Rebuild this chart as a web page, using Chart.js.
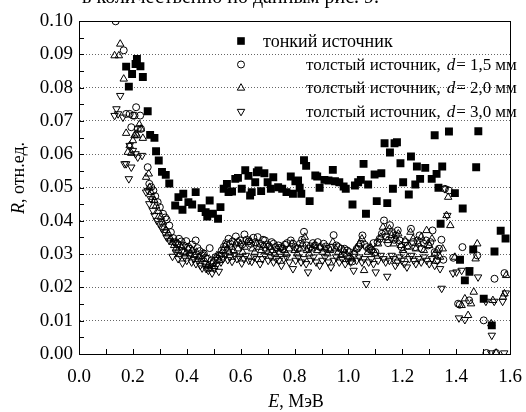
<!DOCTYPE html>
<html>
<head>
<meta charset="utf-8">
<script src="https://cdn.jsdelivr.net/npm/chart.js@4"></script>
</head>
<body style="margin:0; background:#fff">
<div style="position:relative; width:526px; height:412px; overflow:hidden">
  <canvas id="chart" width="526" height="412"></canvas>
  <div id="top-text" style="position:absolute; left:82px; top:-15px; font:20px 'Liberation Serif'; white-space:nowrap">в количественно по данным рис. 9.</div>
</div>
<script>
// Series data (E in MeV, R in rel. units)

const thinE = [0.175,0.185,0.197,0.210,0.215,0.228,0.237,0.255,0.264,0.280,0.286,0.296,0.308,0.322,0.335,0.357,0.369,0.384,0.387,0.406,
  0.420,0.433,0.455,0.470,0.476,0.485,0.497,0.516,0.525,0.537,0.549,0.555,0.568,0.580,0.590,0.604,0.617,0.629,0.635,0.641,
  0.654,0.660,0.666,0.676,0.688,0.700,0.712,0.721,0.739,0.754,0.770,0.786,0.794,0.803,0.813,0.819,0.825,0.835,0.843,0.856,
  0.877,0.884,0.893,0.911,0.926,0.942,0.950,0.966,0.982,0.990,1.015,1.024,1.036,1.046,1.056,1.065,1.073,1.097,1.105,1.122,
  1.134,1.144,1.154,1.165,1.171,1.180,1.193,1.203,1.224,1.232,1.248,1.254,1.266,1.285,1.309,1.320,1.327,1.334,1.342,1.348,
  1.373,1.395,1.414,1.424,1.432,1.449,1.463,1.474,1.482,1.502,1.532,1.542,1.565,1.583];
const thinR = [0.0863,0.0803,0.0841,0.0871,0.0886,0.0864,0.0832,0.0729,0.0658,0.0649,0.0609,0.0581,0.0547,0.0538,0.0512,0.0446,0.0471,0.0433,0.0481,0.0456,
  0.0449,0.0486,0.0438,0.0426,0.0413,0.0461,0.0421,0.0406,0.0441,0.0496,0.0511,0.0486,0.0488,0.0526,0.0529,0.0496,0.0552,0.0535,0.0476,0.0486,
  0.0516,0.0546,0.0551,0.0489,0.0543,0.0516,0.0496,0.0531,0.0501,0.0496,0.0486,0.0533,0.0481,0.0519,0.0521,0.0499,0.0481,0.0582,0.0565,0.0459,
  0.0536,0.0533,0.0499,0.0523,0.0521,0.0553,0.0519,0.0516,0.0503,0.0496,0.0449,0.0506,0.0516,0.0523,0.0571,0.0421,0.0509,0.0539,0.0459,0.0543,
  0.0633,0.0453,0.0605,0.0496,0.0633,0.0636,0.0573,0.0516,0.0479,0.0593,0.0509,0.0563,0.0526,0.0559,0.0526,0.0657,0.0541,0.0499,0.0391,0.0563,
  0.0668,0.0483,0.0283,0.0437,0.0221,0.0247,0.0314,0.0561,0.0669,0.0166,0.0086,0.0308,0.0370,0.0347];

const d15E = [0.136,0.166,0.175,0.188,0.194,0.200,0.206,0.212,0.218,0.227,0.230,0.255,0.261,0.268,0.276,0.283,0.292,0.300,0.312,0.320,
  0.325,0.335,0.341,0.350,0.358,0.365,0.371,0.380,0.388,0.398,0.405,0.412,0.420,0.433,0.440,0.448,0.456,0.463,0.470,0.478,
  0.485,0.492,0.500,0.507,0.515,0.522,0.530,0.538,0.546,0.555,0.562,0.570,0.582,0.590,0.598,0.606,0.614,0.622,0.630,0.638,
  0.647,0.655,0.663,0.672,0.683,0.690,0.698,0.706,0.715,0.722,0.730,0.740,0.748,0.756,0.764,0.772,0.786,0.794,0.803,0.812,
  0.820,0.828,0.835,0.845,0.852,0.860,0.868,0.876,0.886,0.895,0.908,0.916,0.925,0.935,0.945,0.955,0.963,0.972,0.985,0.995,
  1.003,1.014,1.022,1.031,1.038,1.045,1.052,1.060,1.068,1.076,1.085,1.093,1.100,1.108,1.116,1.124,1.132,1.140,1.147,1.154,
  1.162,1.170,1.176,1.183,1.190,1.197,1.205,1.212,1.220,1.232,1.240,1.248,1.256,1.264,1.272,1.280,1.288,1.296,1.304,1.312,
  1.320,1.328,1.336,1.345,1.352,1.358,1.373,1.389,1.407,1.413,1.423,1.448,1.478,1.502,1.512,1.542,1.548,1.579];
const d15R = [0.0999,0.0912,0.0721,0.0721,0.0681,0.0716,0.0716,0.0741,0.0676,0.0716,0.0676,0.0561,0.0511,0.0501,0.0491,0.0474,0.0456,0.0441,0.0421,0.0410,
  0.0404,0.0386,0.0366,0.0348,0.0336,0.0331,0.0346,0.0338,0.0326,0.0339,0.0322,0.0316,0.0329,0.0341,0.0318,0.0309,0.0296,0.0302,0.0289,0.0286,
  0.0318,0.0281,0.0276,0.0291,0.0286,0.0296,0.0311,0.0322,0.0333,0.0346,0.0331,0.0338,0.0353,0.0336,0.0341,0.0329,0.0359,0.0343,0.0338,0.0331,
  0.0349,0.0336,0.0351,0.0331,0.0343,0.0341,0.0329,0.0323,0.0336,0.0331,0.0321,0.0326,0.0319,0.0316,0.0328,0.0333,0.0341,0.0331,0.0321,0.0316,
  0.0331,0.0343,0.0367,0.0326,0.0316,0.0323,0.0333,0.0326,0.0336,0.0321,0.0331,0.0323,0.0316,0.0319,0.0357,0.0326,0.0321,0.0316,0.0316,0.0311,
  0.0306,0.0278,0.0301,0.0316,0.0323,0.0331,0.0356,0.0328,0.0321,0.0316,0.0311,0.0333,0.0306,0.0336,0.0346,0.0361,0.0401,0.0353,0.0333,0.0387,
  0.0366,0.0343,0.0356,0.0371,0.0341,0.0321,0.0301,0.0336,0.0326,0.0376,0.0336,0.0321,0.0341,0.0356,0.0316,0.0331,0.0341,0.0326,0.0336,0.0371,
  0.0306,0.0281,0.0316,0.0343,0.0283,0.0496,0.0491,0.0289,0.0151,0.0148,0.0321,0.0161,0.0296,0.0101,0.0003,0.0226,0.0003,0.0243];

const d20E = [0.132,0.148,0.153,0.166,0.175,0.181,0.188,0.194,0.200,0.206,0.212,0.215,0.224,0.230,0.237,0.249,0.259,0.262,0.267,0.273,
  0.280,0.286,0.295,0.304,0.310,0.316,0.324,0.332,0.340,0.347,0.353,0.360,0.368,0.375,0.381,0.388,0.396,0.405,0.412,0.420,
  0.428,0.436,0.445,0.455,0.463,0.470,0.478,0.486,0.494,0.502,0.512,0.520,0.527,0.535,0.543,0.550,0.558,0.566,0.574,0.582,
  0.590,0.598,0.607,0.615,0.625,0.635,0.643,0.652,0.660,0.668,0.676,0.685,0.694,0.702,0.710,0.718,0.727,0.736,0.745,0.754,
  0.762,0.770,0.780,0.790,0.800,0.810,0.820,0.830,0.838,0.846,0.855,0.864,0.874,0.884,0.894,0.903,0.912,0.922,0.932,0.942,
  0.952,0.962,0.972,0.982,0.992,1.002,1.012,1.020,1.030,1.040,1.050,1.058,1.072,1.082,1.092,1.100,1.110,1.120,1.128,1.136,
  1.144,1.152,1.160,1.168,1.176,1.185,1.194,1.202,1.210,1.220,1.230,1.240,1.250,1.260,1.270,1.280,1.290,1.300,1.310,1.320,
  1.330,1.340,1.350,1.364,1.370,1.378,1.395,1.420,1.432,1.444,1.455,1.465,1.472,1.478,1.530,1.536,1.548,1.573,1.579,1.585];
const d20R = [0.0896,0.0896,0.0931,0.0826,0.0663,0.0606,0.0626,0.0603,0.0641,0.0656,0.0661,0.0656,0.0689,0.0676,0.0648,0.0531,0.0541,0.0501,0.0486,0.0471,
  0.0461,0.0445,0.0428,0.0411,0.0396,0.0381,0.0371,0.0361,0.0346,0.0336,0.0326,0.0316,0.0311,0.0326,0.0321,0.0306,0.0301,0.0316,0.0301,0.0311,
  0.0296,0.0306,0.0291,0.0286,0.0301,0.0276,0.0266,0.0256,0.0271,0.0263,0.0296,0.0281,0.0301,0.0311,0.0326,0.0316,0.0306,0.0321,0.0311,0.0331,
  0.0316,0.0331,0.0306,0.0321,0.0336,0.0341,0.0316,0.0306,0.0331,0.0321,0.0311,0.0326,0.0316,0.0306,0.0321,0.0311,0.0301,0.0316,0.0306,0.0321,
  0.0311,0.0301,0.0316,0.0331,0.0311,0.0301,0.0316,0.0331,0.0351,0.0311,0.0301,0.0316,0.0326,0.0311,0.0321,0.0306,0.0316,0.0301,0.0311,0.0336,
  0.0316,0.0306,0.0296,0.0311,0.0301,0.0291,0.0286,0.0306,0.0316,0.0331,0.0346,0.0251,0.0306,0.0321,0.0311,0.0301,0.0331,0.0351,0.0381,0.0366,
  0.0341,0.0376,0.0356,0.0331,0.0346,0.0361,0.0326,0.0311,0.0341,0.0321,0.0366,0.0346,0.0316,0.0331,0.0351,0.0311,0.0371,0.0326,0.0346,0.0301,
  0.0311,0.0291,0.0316,0.0416,0.0471,0.0386,0.0291,0.0146,0.0166,0.0116,0.0151,0.0186,0.0286,0.0331,0.0091,0.0161,0.0003,0.0171,0.0181,0.0236];

const d30E = [0.132,0.139,0.145,0.153,0.163,0.169,0.175,0.185,0.188,0.194,0.200,0.210,0.218,0.234,0.249,0.255,0.261,0.267,0.274,0.280,
  0.289,0.298,0.307,0.316,0.325,0.335,0.347,0.353,0.360,0.368,0.376,0.384,0.392,0.400,0.410,0.418,0.426,0.434,0.442,0.450,
  0.457,0.465,0.472,0.480,0.487,0.494,0.502,0.510,0.519,0.527,0.535,0.543,0.552,0.560,0.568,0.577,0.586,0.595,0.604,0.612,
  0.620,0.630,0.641,0.650,0.660,0.672,0.680,0.690,0.702,0.712,0.722,0.732,0.742,0.751,0.760,0.770,0.780,0.794,0.804,0.814,
  0.824,0.834,0.843,0.850,0.860,0.870,0.880,0.893,0.903,0.913,0.925,0.935,0.945,0.955,0.966,0.976,0.988,0.998,1.008,1.019,
  1.030,1.040,1.050,1.058,1.066,1.075,1.085,1.093,1.101,1.110,1.120,1.130,1.138,1.144,1.152,1.160,1.167,1.174,1.182,1.190,
  1.198,1.207,1.217,1.226,1.234,1.242,1.250,1.260,1.270,1.280,1.290,1.300,1.310,1.320,1.330,1.340,1.346,1.358,1.367,1.388,
  1.401,1.410,1.420,1.432,1.449,1.481,1.510,1.530,1.532,1.541,1.572,1.578,1.584];
const d30R = [0.0716,0.0736,0.0721,0.0776,0.0711,0.0571,0.0571,0.0526,0.0626,0.0561,0.0611,0.0601,0.0591,0.0596,0.0486,0.0491,0.0451,0.0466,0.0431,0.0416,
  0.0401,0.0391,0.0378,0.0366,0.0351,0.0341,0.0293,0.0336,0.0306,0.0286,0.0296,0.0273,0.0291,0.0281,0.0296,0.0276,0.0286,0.0271,0.0281,0.0266,
  0.0258,0.0271,0.0256,0.0251,0.0261,0.0243,0.0256,0.0266,0.0248,0.0276,0.0286,0.0296,0.0283,0.0291,0.0278,0.0296,0.0286,0.0291,0.0273,0.0286,
  0.0296,0.0281,0.0278,0.0291,0.0286,0.0271,0.0286,0.0296,0.0281,0.0291,0.0276,0.0286,0.0281,0.0266,0.0286,0.0291,0.0276,0.0256,0.0281,0.0291,
  0.0276,0.0286,0.0271,0.0246,0.0281,0.0291,0.0276,0.0266,0.0281,0.0291,0.0276,0.0261,0.0281,0.0291,0.0276,0.0286,0.0271,0.0281,0.0276,0.0251,
  0.0281,0.0291,0.0276,0.0286,0.0211,0.0276,0.0286,0.0271,0.0246,0.0281,0.0296,0.0286,0.0276,0.0233,0.0281,0.0296,0.0286,0.0266,0.0276,0.0291,
  0.0281,0.0271,0.0261,0.0286,0.0296,0.0281,0.0271,0.0286,0.0276,0.0291,0.0281,0.0271,0.0286,0.0266,0.0281,0.0256,0.0197,0.0496,0.0416,0.0243,
  0.0246,0.0108,0.0251,0.0103,0.0253,0.0231,0.0158,0.0003,0.0056,0.0158,0.0158,0.0003,0.0183];

const seriesLabels = [
  'тонкий источник',
  'толстый источник, d = 1,5 мм',
  'толстый источник, d = 2,0 мм',
  'толстый источник, d = 3,0 мм'
];
const thickness = ['1,5', '2,0', '3,0'];

const fontFamily = '"Liberation Serif"';
const toPoints = (xs, ys) => xs.map((x, i) => ({ x: x, y: ys[i] }));

// warm up the serif faces on a throwaway canvas
const warm = document.createElement('canvas').getContext('2d');
['20px ', 'italic 20px '].forEach(f => {
  warm.font = f + fontFamily;
  warm.fillText('тонкий 0.10 R E', 0, 10);
});

// small marker painters, used for the legend
function drawMarker(ctx, kind, x, y) {
  ctx.save();
  ctx.lineWidth = 1;
  ctx.strokeStyle = '#000';
  ctx.fillStyle = '#000';
  ctx.beginPath();
  if (kind === 'square') {
    ctx.fillRect(x - 3.8, y - 3.8, 7.6, 7.6);
  } else if (kind === 'circle') {
    ctx.arc(x, y, 3.5, 0, Math.PI * 2);
    ctx.stroke();
  } else {
    const r = 4.3;
    const dir = kind === 'up' ? -1 : 1;
    ctx.moveTo(x, y + dir * r);
    ctx.lineTo(x + r * 0.866, y - dir * r * 0.5);
    ctx.lineTo(x - r * 0.866, y - dir * r * 0.5);
    ctx.closePath();
    ctx.stroke();
  }
  ctx.restore();
}

// draws the frame, inward ticks, legend and axis titles
const decorations = {
  id: 'decorations',
  afterDraw(chart) {
    const ctx = chart.ctx;
    const a = chart.chartArea;
    const xs = chart.scales.x;
    const ys = chart.scales.y;

    ctx.save();
    ctx.strokeStyle = '#000';
    ctx.lineWidth = 1;
    ctx.strokeRect(Math.round(a.left) + 0.5, Math.round(a.top) + 0.5,
      Math.round(a.right - a.left), Math.round(a.bottom - a.top));

    ctx.beginPath();
    for (let i = 1; i < 16; i++) {
      const px = Math.round(xs.getPixelForValue(i / 10)) + 0.5;
      ctx.moveTo(px, a.bottom);
      ctx.lineTo(px, a.bottom - 5);
    }
    for (let i = 1; i < 20; i++) {
      const py = Math.round(ys.getPixelForValue(i * 0.005)) + 0.5;
      ctx.moveTo(a.left, py);
      ctx.lineTo(a.left + 5, py);
    }
    ctx.stroke();

    // legend
    const kinds = ['square', 'circle', 'up', 'down'];
    const rowsY = [41, 64.5, 88, 111.5];
    const normal = '17px ' + fontFamily;
    const italic = 'italic 17px ' + fontFamily;
    ctx.fillStyle = '#000';
    ctx.textBaseline = 'middle';
    kinds.forEach((k, i) => {
      drawMarker(ctx, k, 241, rowsY[i]);
      const ty = rowsY[i] + 1;
      if (i === 0) {
        ctx.font = '18px ' + fontFamily;
        ctx.fillText(seriesLabels[0], 263, ty);
        return;
      }
      let tx = 306;
      ctx.font = normal;
      ctx.fillText('толстый источник,', tx, ty);
      tx += ctx.measureText('толстый источник,').width + 6;
      ctx.font = italic;
      ctx.fillText('d', tx, ty);
      tx += ctx.measureText('d').width + 1;
      ctx.font = normal;
      ctx.fillText('=', tx, ty);
      tx += ctx.measureText('=').width + 4;
      ctx.fillText(thickness[i - 1], tx, ty);
      tx += ctx.measureText(thickness[i - 1]).width + 4;
      ctx.fillText('мм', tx, ty);
    });

    // x axis title
    ctx.font = 'italic 18px ' + fontFamily;
    const eW = ctx.measureText('E').width;
    ctx.font = '18px ' + fontFamily;
    const restX = ', МэВ';
    const totalX = eW + ctx.measureText(restX).width;
    const sx = 296 - totalX / 2;
    ctx.font = 'italic 18px ' + fontFamily;
    ctx.fillText('E', sx, 402);
    ctx.font = '18px ' + fontFamily;
    ctx.fillText(restX, sx + eW, 402);

    // y axis title
    ctx.translate(19, 178);
    ctx.rotate(-Math.PI / 2);
    ctx.font = 'italic 18px ' + fontFamily;
    const rW = ctx.measureText('R').width;
    ctx.font = '18px ' + fontFamily;
    const restY = ', отн.ед.';
    const totalY = rW + ctx.measureText(restY).width;
    ctx.font = 'italic 18px ' + fontFamily;
    ctx.fillText('R', -totalY / 2, 0);
    ctx.font = '18px ' + fontFamily;
    ctx.fillText(restY, -totalY / 2 + rW, 0);
    ctx.restore();
  }
};

const hollow = 'rgba(0,0,0,0)';

const chart = new Chart(document.getElementById('chart'), {
  type: 'scatter',
  data: {
    datasets: [
      { label: seriesLabels[0], data: toPoints(thinE, thinR), pointStyle: 'rect', pointRadius: 5.6,
        backgroundColor: '#000', borderColor: '#000', borderWidth: 0 },
      { label: seriesLabels[1], data: toPoints(d15E, d15R), pointStyle: 'circle', pointRadius: 3.5,
        backgroundColor: hollow, borderColor: '#000', borderWidth: 1 },
      { label: seriesLabels[2], data: toPoints(d20E, d20R), pointStyle: 'triangle', pointRadius: 4.3,
        backgroundColor: hollow, borderColor: '#000', borderWidth: 1 },
      { label: seriesLabels[3], data: toPoints(d30E, d30R), pointStyle: 'triangle', rotation: 180, pointRadius: 4.3,
        backgroundColor: hollow, borderColor: '#000', borderWidth: 1 }
    ]
  },
  options: {
    responsive: false,
    animation: false,
    layout: { padding: { top: 21, right: 12, left: 0, bottom: 0 } },
    plugins: {
      legend: { display: false },
      tooltip: { enabled: false }
    },
    scales: {
      x: {
        type: 'linear',
        min: 0,
        max: 1.6,
        afterFit: s => { s.height = 58; },
        grid: { display: false },
        border: { color: '#000', width: 1 },
        ticks: {
          stepSize: 0.2,
          padding: 4,
          color: '#000',
          font: { family: fontFamily, size: 19 },
          maxRotation: 0,
          callback: v => v.toFixed(1)
        }
      },
      y: {
        min: 0,
        max: 0.1,
        afterFit: s => { s.width = 79; },
        grid: { color: '#666', lineWidth: 1, drawTicks: false },
        border: { color: '#000', width: 1, dash: [1, 2] },
        ticks: {
          stepSize: 0.01,
          padding: 6,
          color: '#000',
          font: { family: fontFamily, size: 19 },
          callback: v => v.toFixed(2)
        }
      }
    }
  },
  plugins: [decorations]
});

// redraw once more in case the face arrived late
setTimeout(() => chart.update(), 50);
</script>
</body>
</html>
